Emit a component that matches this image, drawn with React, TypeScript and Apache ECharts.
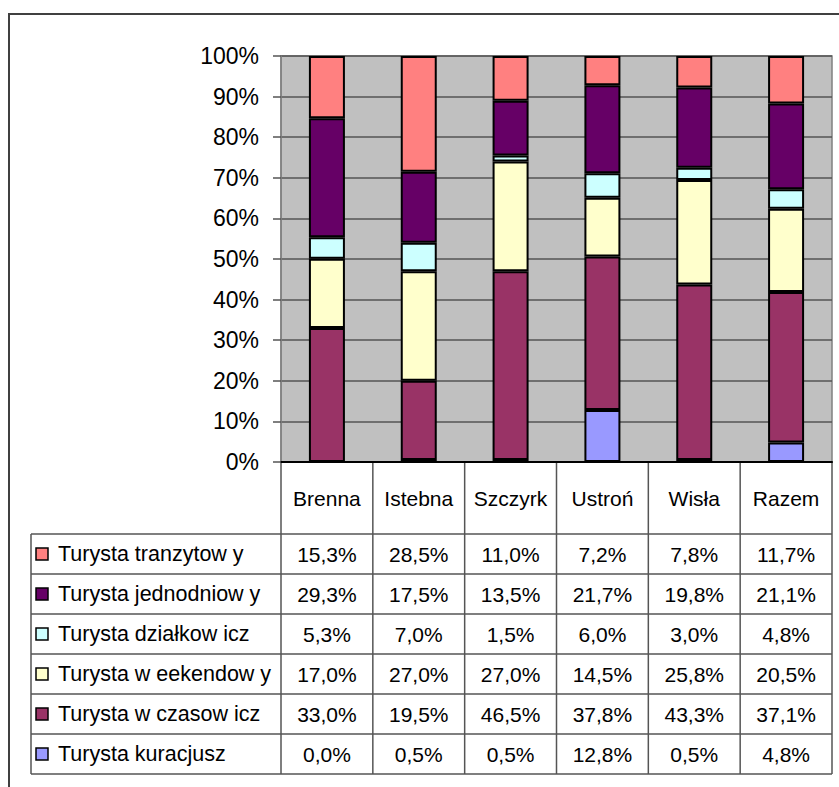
import React, { useEffect, useRef } from "react";
import * as echarts from "echarts";

const categories = ["Brenna", "Istebna", "Szczyrk", "Ustroń", "Wisła", "Razem"];
const yTicks = [0, 10, 20, 30, 40, 50, 60, 70, 80, 90, 100];

// stacked bottom -> top
const seriesNames = [
  "Turysta kuracjusz",
  "Turysta w czasow icz",
  "Turysta w eekendow y",
  "Turysta działkow icz",
  "Turysta jednodniow y",
  "Turysta tranzytow y",
];
const kuracjusz = [0.0, 0.5, 0.5, 12.8, 0.5, 4.8];
const wczasowicz = [33.0, 19.5, 46.5, 37.8, 43.3, 37.1];
const weekendowy = [17.0, 27.0, 27.0, 14.5, 25.8, 20.5];
const dzialkowicz = [5.3, 7.0, 1.5, 6.0, 3.0, 4.8];
const jednodniowy = [29.3, 17.5, 13.5, 21.7, 19.8, 21.1];
const tranzytowy = [15.3, 28.5, 11.0, 7.2, 7.8, 11.7];
const seriesColors = ["#9999FF", "#993366", "#FFFFCC", "#CCFFFF", "#660066", "#FF8080"];

const FONT = "'Liberation Sans', Arial, sans-serif";

export default function App() {
  const ref = useRef<HTMLDivElement>(null);
  useEffect(() => {
    const el = ref.current!;
    const chart = echarts.init(el, undefined, { renderer: "svg" });
    const allSeries = [kuracjusz, wczasowicz, weekendowy, dzialkowicz, jednodniowy, tranzytowy];
    const totals = categories.map((_, i) => allSeries.reduce((s, a) => s + a[i], 0));

    const gLeft = 281, gTop = 56, gWidth = 551, gHeight = 406;
    const colW = gWidth / categories.length;
    const headerBottom = gTop + gHeight + 72;
    const rowH = 40;
    const tableLeft = 31;
    const tableRight = gLeft + gWidth;
    const nRows = seriesNames.length;
    const lineStyle = { stroke: "#555", lineWidth: 1.5 };

    const graphics: any[] = [];
    // outer frame
    graphics.push({
      type: "rect",
      shape: { x: 9, y: 14, width: 900, height: 900 },
      style: { fill: "none", stroke: "#404040", lineWidth: 2 },
      silent: true,
    });
    // header column lines
    for (let i = 0; i <= categories.length; i++) {
      const x = gLeft + i * colW;
      graphics.push({
        type: "line",
        shape: { x1: x, y1: gTop + gHeight, x2: x, y2: headerBottom + nRows * rowH },
        style: lineStyle,
      });
    }
    categories.forEach((c, i) => {
      graphics.push({
        type: "text",
        x: gLeft + (i + 0.5) * colW,
        y: gTop + gHeight + 36,
        style: { text: c, font: `21px ${FONT}`, fill: "#000", align: "center", verticalAlign: "middle" },
      });
    });
    // row lines
    for (let r = 0; r <= nRows; r++) {
      const y = headerBottom + r * rowH;
      graphics.push({
        type: "line",
        shape: { x1: tableLeft, y1: y, x2: tableRight, y2: y },
        style: lineStyle,
      });
    }
    graphics.push({
      type: "line",
      shape: { x1: tableLeft, y1: headerBottom, x2: tableLeft, y2: headerBottom + nRows * rowH },
      style: lineStyle,
    });
    // rows: top row = last series
    for (let r = 0; r < nRows; r++) {
      const si = nRows - 1 - r;
      const cy = headerBottom + r * rowH + rowH / 2;
      graphics.push({
        type: "rect",
        shape: { x: 36, y: cy - 6, width: 12, height: 12 },
        style: { fill: seriesColors[si], stroke: "#000", lineWidth: 1.5 },
      });
      graphics.push({
        type: "text",
        x: 58,
        y: cy,
        style: { text: seriesNames[si], font: `21.5px ${FONT}`, fill: "#000", align: "left", verticalAlign: "middle" },
      });
      allSeries[si].forEach((v, i) => {
        graphics.push({
          type: "text",
          x: gLeft + (i + 0.5) * colW,
          y: cy,
          style: {
            text: v.toFixed(1).replace(".", ",") + "%",
            font: `21px ${FONT}`,
            fill: "#000",
            align: "center",
            verticalAlign: "middle",
          },
        });
      });
    }

    chart.setOption({
      animation: false,
      backgroundColor: "#fff",
      grid: {
        left: gLeft,
        top: gTop,
        width: gWidth,
        height: gHeight,
        show: true,
        backgroundColor: "#C0C0C0",
        borderColor: "#808080",
        borderWidth: 1.5,
      },
      xAxis: {
        type: "category",
        data: categories,
        axisLabel: { show: false },
        axisTick: { show: false },
        axisLine: { show: true, lineStyle: { color: "#000", width: 2 } },
      },
      yAxis: {
        type: "value",
        min: yTicks[0],
        max: yTicks[yTicks.length - 1],
        interval: 10,
        axisLabel: {
          formatter: "{value}%",
          fontFamily: FONT,
          fontSize: 23,
          color: "#000",
          margin: 22,
        },
        axisTick: { show: true, length: 8, lineStyle: { color: "#555", width: 1.5 } },
        axisLine: { show: true, lineStyle: { color: "#808080", width: 1.5 } },
        splitLine: { show: true, lineStyle: { color: "#555", width: 1.5 } },
      },
      series: allSeries.map((arr, si) => ({
        name: seriesNames[si],
        type: "bar",
        stack: "total",
        barWidth: 36,
        data: arr.map((v, i) => (v / totals[i]) * 100),
        itemStyle: { color: seriesColors[si], borderColor: "#000", borderWidth: 2 },
      })),
      graphic: graphics,
    });
    return () => chart.dispose();
  }, []);
  return (
    <div
      ref={ref}
      style={{ position: "absolute", left: 0, top: 0, width: 839, height: 787 }}
    />
  );
}
